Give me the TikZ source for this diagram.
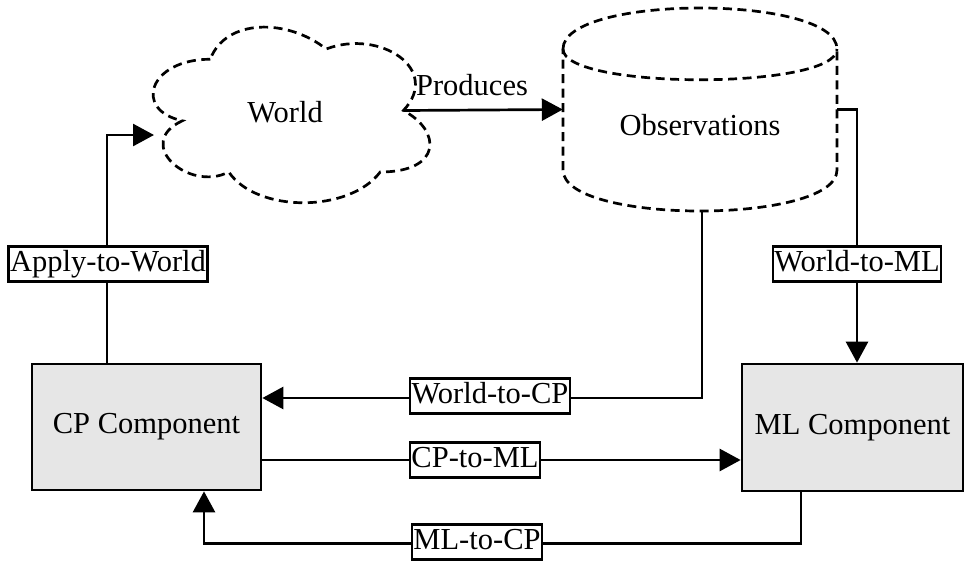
\documentclass[tikz,border=0pt]{standalone}
\usepackage{fontspec}
\setmainfont{Liberation Serif}
\usetikzlibrary{arrows.meta,calc}
\definecolor{compfill}{HTML}{E6E6E6}
\tikzset{
  conn/.style={line width=2.7pt,-{Triangle[length=21pt,width=22pt]}},
  dashline/.style={line width=2.7pt,dash pattern=on 9pt off 5.5pt},
  comp/.style={draw,line width=2.7pt,fill=compfill,rectangle,inner sep=0pt},
  lbl/.style={draw,line width=2.4pt,fill=white,inner xsep=1.5pt,inner ysep=3.5pt,text height=21pt,text depth=7pt},
  ghost/.style={rectangle,inner sep=0pt}
}
\begin{document}
\begin{tikzpicture}[x=1pt,y=-1pt,every node/.style={font=\fontsize{30.5pt}{36pt}\selectfont}]
\useasboundingbox (0,0) rectangle (965,563);

% World cloud
\draw[dashline] (210.25,59.25)
  .. controls (148.45,59.25) and (133,110.5) .. (182.44,120.75)
  .. controls (133,143.3) and (188.62,192.5) .. (228.79,172)
  .. controls (256.6,213) and (349.3,213) .. (380.2,172)
  .. controls (442,172) and (442,131) .. (403.375,110.5)
  .. controls (442,69.5) and (380.2,28.5) .. (326.125,49)
  .. controls (287.5,18.25) and (225.7,18.25) .. cycle;
\node[ghost,minimum width=309pt,minimum height=205pt] (world) at (287.5,110.5) {};
\node (worldtext) at (285,112) {World};
\coordinate (worldE) at (403.4,110.5);
\coordinate (worldW) at (154,135);

% Observations cylinder
\draw[dashline] (563,49) .. controls (563,-5.67) and (837,-5.67) .. (837,49)
  -- (837,170) .. controls (837,224.67) and (563,224.67) .. (563,170) -- cycle;
\draw[dashline] (563,49) .. controls (563,90) and (837,90) .. (837,49);
\node[ghost,minimum width=274pt,minimum height=203pt] (obs) at (700,109.5) {};
\node (obstext) at (700,125) {Observations};

% Components
\node[comp,minimum width=229pt,minimum height=126pt] (cp) at (146.5,427) {CP Component};
\node[comp,minimum width=221pt,minimum height=127pt] (ml) at (852.5,427.5) {ML Component};

% Connectors
\draw[conn] (worldE) -- (obs.west);
\draw[conn] ([xshift=-39.5pt]cp.north) |- (worldW);
\draw[conn] (obs.east) -| ([xshift=4.5pt]ml.north);
\draw[conn] ([xshift=2pt]obs.south) |- ([yshift=29pt]cp.east);
\draw[conn] ([yshift=-33pt]cp.east) -- ([yshift=-33pt]cp.east -| ml.west);
\draw[conn] ([xshift=-51.5pt]ml.south) -- ++(0,51) -| ([xshift=57.5pt]cp.south);

% Labels
\node (lprod) at (472,85) {Produces};
\node[lbl] (lapply) at (108,264) {Apply-to-World};
\node[lbl] (lw2ml) at (857,264) {World-to-ML};
\node[lbl] (lw2cp) at (490,396) {World-to-CP};
\node[lbl] (lcp2ml) at (475,460) {CP-to-ML};
\node[lbl] (lml2cp) at (477,542) {ML-to-CP};
\end{tikzpicture}
\end{document}
